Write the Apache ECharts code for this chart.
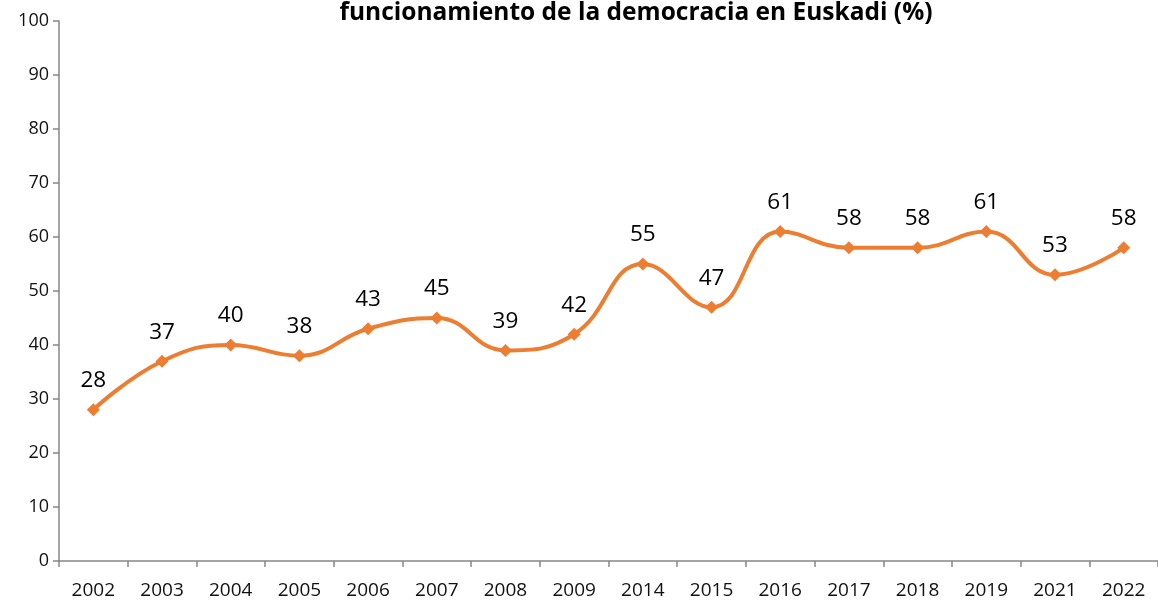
<!DOCTYPE html>
<html>
<head>
<meta charset="utf-8">
<script src="https://cdn.jsdelivr.net/npm/echarts@6/dist/echarts.min.js"></script>
<style>
  html, body { margin: 0; padding: 0; background: #fff; }
  #main { width: 1158px; height: 601px; }
</style>
</head>
<body>
<div id="main"></div>
<script>
var years = ['2002', '2003', '2004', '2005', '2006', '2007', '2008', '2009',
  '2014', '2015', '2016', '2017', '2018', '2019', '2021', '2022'];
var satisfaction = [28, 37, 40, 38, 43, 45, 39, 42, 55, 47, 61, 58, 58, 61, 53, 58];
var chartTitle = 'funcionamiento de la democracia en Euskadi (%)';

var myChart = echarts.init(document.getElementById('main'));
var option = {
  animation: false,
  title: {
    text: chartTitle,
    left: 631,
    textAlign: 'center',
    top: -4,
    textStyle: {
      fontFamily: 'Open Sans',
      fontWeight: 'bold',
      fontSize: 24.5,
      color: '#000'
    }
  },
  grid: {
    left: 59,
    right: -6,
    top: 21,
    bottom: 40
  },
  xAxis: {
    type: 'category',
    data: years,
    boundaryGap: true,
    axisLine: { lineStyle: { color: '#868686', width: 1.5 } },
    axisTick: { show: true, length: 6, lineStyle: { color: '#868686', width: 1.5 } },
    axisLabel: {
      margin: 20,
      fontFamily: 'Open Sans',
      fontSize: 19,
      color: '#111'
    }
  },
  yAxis: {
    type: 'value',
    min: 0,
    max: 100,
    interval: 10,
    axisLine: { show: true, lineStyle: { color: '#868686', width: 1.5 } },
    axisTick: { show: true, length: 6, lineStyle: { color: '#868686', width: 1.5 } },
    splitLine: { show: false },
    axisLabel: {
      margin: 10,
      fontFamily: 'Open Sans',
      fontSize: 18,
      color: '#111'
    }
  },
  series: [
    {
      type: 'line',
      data: satisfaction,
      smooth: 0.45,
      symbol: 'diamond',
      symbolSize: 13,
      lineStyle: { color: '#ED7D31', width: 4 },
      itemStyle: { color: '#ED7D31' },
      label: {
        show: true,
        position: 'top',
        distance: 11,
        fontFamily: 'Open Sans',
        fontSize: 22.5,
        color: '#000'
      }
    }
  ]
};
myChart.setOption(option);
</script>
</body>
</html>
